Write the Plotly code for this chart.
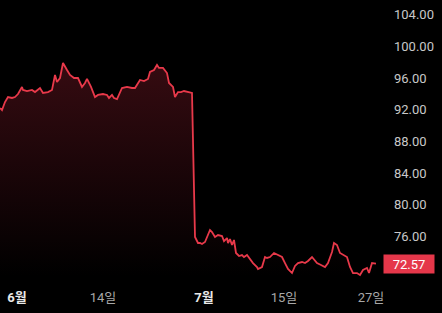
import plotly.graph_objects as go

# sample position (trading-period index) and price
period = [0, 2, 5, 8, 12, 15, 18, 22, 23, 27, 32, 35, 40, 43, 48, 52, 55, 57, 60, 63,
          67, 70, 74, 78, 82, 85, 87, 91, 95, 98, 103, 107, 109, 112, 114, 117, 122, 127,
          132, 135, 140, 144, 148, 150, 154, 157, 159, 163, 167, 169, 173, 175, 178, 181,
          184, 189, 192, 195, 198, 200, 202, 205, 208, 210, 212, 215, 218, 222, 224, 227,
          228, 230, 232, 234, 236, 239, 242, 244, 247, 250, 253, 257, 258, 262, 265, 267,
          270, 274, 278, 282, 285, 288, 292, 295, 298, 302, 305, 308, 312, 317, 321, 325,
          328, 332, 334, 337, 340, 343, 347, 350, 353, 357, 360, 363, 367, 369, 372, 376]
price = [92.22, 91.97, 92.98, 93.61, 93.49, 93.61, 93.99, 94.88, 94.50, 94.37, 94.50, 94.24,
         94.75, 94.12, 94.24, 94.50, 96.39, 95.51, 96.01, 97.91, 97.02, 96.39, 96.01, 96.01,
         94.88, 95.38, 95.89, 94.88, 93.61, 93.87, 93.99, 93.87, 93.49, 93.87, 93.49, 93.36,
         94.75, 94.88, 94.75, 94.75, 95.76, 95.63, 95.89, 96.77, 97.02, 97.65, 97.28, 97.28,
         96.64, 95.38, 94.88, 93.61, 94.24, 94.24, 94.37, 94.24, 94.12, 75.94, 75.18, 75.18,
         75.05, 75.31, 76.19, 76.82, 76.57, 75.94, 76.19, 76.06, 75.43, 75.81, 75.18, 75.68,
         74.93, 75.56, 73.92, 73.54, 73.66, 73.41, 73.66, 73.16, 72.65, 72.15, 71.90, 72.15,
         73.41, 73.29, 73.41, 73.92, 73.66, 73.41, 72.65, 71.90, 71.39, 72.28, 72.65, 72.78,
         72.65, 72.91, 73.41, 72.65, 72.40, 72.15, 72.65, 74.04, 75.18, 74.93, 73.92, 73.66,
         73.41, 72.15, 71.39, 71.39, 71.14, 71.77, 72.02, 71.39, 72.65, 72.57]

x_tick_pos = [17, 103, 204, 284, 371]
x_tick_labels = ["6월", "14일", "7월", "15일", "27일"]
x_tick_major = [True, False, True, False, False]
y_ticks = [76, 80, 84, 88, 92, 96, 100, 104]
last_price = 72.57

ticktext = []
for lab, major in zip(x_tick_labels, x_tick_major):
    if major:
        ticktext.append(f'<span style="color:#e8e8e8"><b>{lab}</b></span>')
    else:
        ticktext.append(f'<span style="color:#a8a8a8">{lab}</span>')

FONT = "Roboto, 'Noto Sans CJK KR', sans-serif"

fig = go.Figure()
fig.add_trace(go.Scatter(
    x=period, y=price, mode="lines",
    line=dict(color="#e8394a", width=1.8),
    fill="tozeroy",
    fillgradient=dict(type="vertical", start=71, stop=98,
                      colorscale=[[0, "rgb(0,0,0)"], [1, "rgb(54,11,17)"]]),
    hoverinfo="skip",
))

fig.add_annotation(
    x=1, xref="paper", y=last_price, yref="y",
    xanchor="left", yanchor="middle", xshift=-3,
    text=f"{last_price:.2f}", showarrow=False,
    bgcolor="#e5374a", font=dict(color="white", size=13, family=FONT),
    width=44, height=12, borderpad=3, align="center",
)

fig.update_layout(
    width=442, height=313,
    margin=dict(l=0, r=56, t=0, b=33),
    paper_bgcolor="black", plot_bgcolor="black",
    showlegend=False,
    font=dict(family=FONT, size=13, color="#c8c8c8"),
    xaxis=dict(range=[0, 386], showgrid=False, zeroline=False, showline=False,
               tickvals=x_tick_pos, ticktext=ticktext, ticks="",
               ticklabelstandoff=8, tickfont=dict(size=13)),
    yaxis=dict(range=[70.51, 105.86], side="right", showgrid=False, zeroline=False,
               showline=False, tickvals=y_ticks, tickformat=".2f", ticks="",
               ticklabelstandoff=7, tickfont=dict(size=13, color="#c8c8c8")),
)

fig.write_html("out.html")
